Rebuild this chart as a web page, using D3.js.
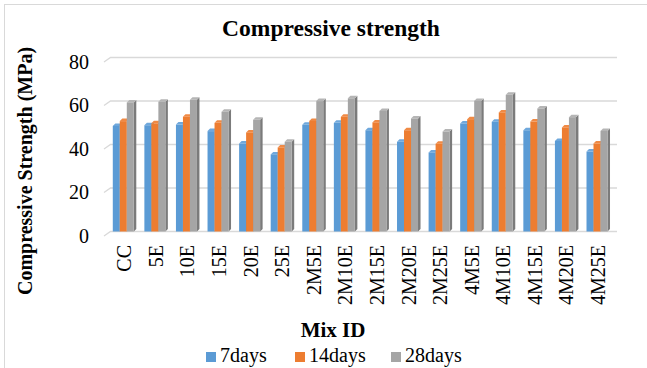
<!DOCTYPE html>
<html><head><meta charset="utf-8">
<script src="https://cdn.jsdelivr.net/npm/d3@7"></script>
<style>
body{margin:0;background:#fff;}
svg{display:block;}
text{font-family:"Liberation Serif","Times New Roman",serif;}
</style></head>
<body><svg id="c" width="647" height="368"></svg>
<script>
const categories = ["CC","5E","10E","15E","20E","25E","2M5E","2M10E","2M15E","2M20E","2M25E","4M5E","4M10E","4M15E","4M20E","4M25E"];
const series = ["7days","14days","28days"];
const days7  = [49.7,50.0,50.3,47.3,41.6,36.6,50.2,51.1,47.7,42.4,37.5,50.8,51.6,47.7,42.8,37.9];
const days14 = [51.9,50.9,53.9,51.1,46.7,39.8,52.0,53.9,51.3,47.7,41.5,52.8,55.9,51.7,49.0,41.6];
const days28 = [60.5,60.8,61.7,56.2,52.5,42.4,61.1,62.4,56.6,53.1,47.1,61.2,64.0,57.7,53.7,47.4];
const yTicks = [0,20,40,60,80];
const colors = ["#5B9BD5","#ED7D31","#A5A5A5"];
const sideColors = ["#41719C","#AE5A21","#7B7B7B"];
const topColors = ["#6FA8DC","#F08A45","#B5B5B5"];

const values = [days7, days14, days28];
const svg = d3.select("#c");
const FF = "Liberation Serif, Times New Roman, serif";

// border
svg.append("rect").attr("x",4.5).attr("y",4.5).attr("width",700).attr("height",400)
  .attr("fill","none").attr("stroke","#d9d9d9").attr("stroke-width",1);

const y = d3.scaleLinear().domain([0,80]).range([231.5,57.5]);
const x = d3.scaleBand().domain(categories).range([107.5,612.8]).paddingInner(0.335).paddingOuter(0.1675);
const xs = d3.scaleBand().domain(series).range([0,x.bandwidth()]);

// gridlines (back wall with perspective stub)
const grid = svg.append("g");
yTicks.forEach(t=>{
  const gy = y(t);
  grid.append("path").attr("d",`M104,${gy+4.5}L110.5,${gy}L617,${gy}`)
    .attr("fill","none").attr("stroke","#d9d9d9").attr("stroke-width",1.3);
});

// y tick labels
svg.append("g").selectAll("text").data(yTicks).join("text")
  .attr("x",89).attr("y",d=>y(d)+4).attr("dy","0.35em").attr("font-family",FF)
  .attr("text-anchor","end").attr("font-size",20).attr("fill","#000").text(d=>d);

// bars
const dep = 2.5;
const bars = svg.append("g");
categories.forEach((c,i)=>{
  series.forEach((s,k)=>{
    const v = values[k][i];
    const x0 = x(c)+xs(s), w = xs.bandwidth();
    const yt = y(v), yb = y(0);
    bars.append("path").attr("d",`M${x0+w},${yt+dep}L${x0+w+dep},${yt}L${x0+w+dep},${yb-dep}L${x0+w},${yb}Z`)
      .attr("fill",sideColors[k]);
    bars.append("path").attr("d",`M${x0},${yt+dep}L${x0+dep},${yt}L${x0+w+dep},${yt}L${x0+w},${yt+dep}Z`)
      .attr("fill",topColors[k]);
    bars.append("rect").attr("x",x0).attr("y",yt+dep).attr("width",w).attr("height",yb-yt-dep)
      .attr("fill",colors[k]);
  });
});

// x labels
svg.append("g").selectAll("text").data(categories).join("text")
  .attr("transform",d=>`translate(${x(d)+x.bandwidth()/2+1},245) rotate(-90)`).attr("font-family",FF)
  .attr("text-anchor","end").attr("dy","0.35em").attr("font-size",20).attr("fill","#000").text(d=>d);

// title
svg.append("text").attr("x",331).attr("y",36).attr("text-anchor","middle").attr("font-family",FF)
  .attr("font-size",23.5).attr("font-weight","bold").text("Compressive strength");

// y axis title
svg.append("text").attr("transform","translate(32,171) rotate(-90)").attr("text-anchor","middle").attr("font-family",FF)
  .attr("font-size",20).attr("font-weight","bold").text("Compressive Strength (MPa)");

// x axis title
svg.append("text").attr("x",333).attr("y",337).attr("text-anchor","middle").attr("font-family",FF)
  .attr("font-size",21).attr("font-weight","bold").text("Mix ID");

// legend
const legX = [206,295,391];
const leg = svg.append("g");
series.forEach((s,k)=>{
  leg.append("rect").attr("x",legX[k]).attr("y",352).attr("width",10).attr("height",10).attr("fill",colors[k]);
  leg.append("text").attr("x",legX[k]+14).attr("y",362).attr("font-family",FF).attr("font-size",20).text(s);
});
</script></body></html>
